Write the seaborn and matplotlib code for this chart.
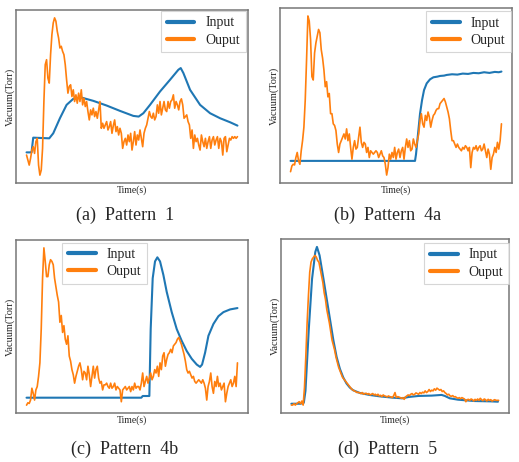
import numpy as np
import pandas as pd
import matplotlib
matplotlib.use("Agg")
import matplotlib.pyplot as plt
import seaborn as sns

sns.set_style("white")
plt.rcParams['font.family'] = ['Liberation Serif', 'DejaVu Serif']

# ---------------------------------------------------------------
# Data (arbitrary vacuum units, uniform sampling index as time)
# ---------------------------------------------------------------
# Pattern 1
p1_output = [90, 75, 60, 80, 105, 115, 95, 130, 140, 60, 30, 45, 110, 250, 360, 375,
             320, 305, 390, 450, 485, 500, 490, 460, 440, 410, 415, 400, 390, 360, 315, 275, 295,
             300, 265, 285, 250, 270, 245, 275, 250, 285, 240,
             260, 235, 250, 220, 195, 225, 210, 230, 205, 220,
             200, 225, 250, 170, 185, 170, 180, 190, 165, 175,
             190, 155, 178, 195, 160, 175, 150, 170, 155, 110,
             130, 140, 120, 150, 130, 155, 105, 130, 160, 120,
             150, 135, 165, 140, 115, 155, 170, 180, 200, 220,
             205, 200, 215, 195, 205, 240, 215, 250, 210, 230,
             250, 225, 220, 250, 230, 250, 255, 270, 230, 250,
             240, 225, 250, 258, 240, 200, 205, 210, 190, 180,
             140, 165, 110, 150, 130, 140, 120, 105, 150, 130,
             115, 140, 110, 130, 145, 110, 135, 145, 120, 135,
             145, 110, 140, 130, 90, 140, 145, 100, 120, 140,
             135, 145, 140, 145, 140, 145]
p1_input_t = [0, 3.75, 5, 17, 20, 25, 30, 35, 41, 50, 60, 70, 80, 84, 87.5, 92.5, 100,
              107.5, 113.75, 115.5, 117.5, 122.5, 130, 137.5, 145, 152.5, 158]
p1_input = [98, 98, 142, 140, 155, 200, 240, 258, 262, 252, 238, 222, 207, 205, 215, 240, 280,
            315, 345, 350, 335, 285, 240, 215, 200, 188, 178]

# Pattern 4a
p4a_output = [38, 55, 60, 58, 80, 95, 70, 60, 100, 130,
              170, 250, 370, 500, 485, 430, 320, 310, 390, 420,
              440, 460, 450, 400, 375, 340, 290, 305, 260, 270,
              210, 210, 180, 175, 160, 120, 95, 120, 130, 140,
              150, 135, 165, 130, 150, 110, 75, 110, 130, 105,
              110, 140, 170, 125, 110, 125, 120, 95, 110, 80,
              100, 95, 90, 95, 100, 95, 80, 90, 100, 85,
              80, 60, 28, 50, 90, 75, 95, 80, 110, 75,
              95, 105, 80, 100, 110, 75, 110, 135, 110, 130,
              100, 105, 135, 120, 110, 130, 150, 190, 210, 180,
              170, 205, 190, 215, 200, 170, 190, 205, 210, 220,
              225, 225, 240, 245, 250, 255, 245, 230, 215, 195,
              160, 130, 130, 120, 110, 120, 110, 105, 100, 110,
              105, 115, 110, 100, 110, 50, 95, 110, 105, 115,
              100, 110, 115, 100, 105, 120, 100, 80, 105, 90,
              45, 80, 90, 110, 95, 125, 105, 130, 180]
p4a_input_t = [0, 93.25, 94, 95, 96, 97, 98.5, 100, 102, 104.5, 107, 110, 112, 115, 117,
               121, 125, 129, 133, 137, 141, 145, 149, 153, 156, 158]
p4a_input = [70, 70, 90, 130, 170, 210, 250, 280, 300, 312, 318, 320, 322, 323, 325,
             327, 326, 329, 328, 331, 330, 333, 331, 334, 333, 335]

# Pattern 4b
p4b_output = [25, 32, 30, 40, 75, 60, 40, 70, 80, 110,
              150, 250, 400, 490, 450, 405, 405, 440, 455, 450,
              440, 400, 375, 350, 330, 270, 290, 240, 260, 220,
              205, 230, 170, 155, 130, 115, 90, 110, 125, 140,
              150, 130, 100, 125, 120, 100, 140, 115, 80, 110,
              140, 105, 130, 140, 105, 90, 95, 70, 85, 85,
              90, 80, 75, 90, 75, 80, 90, 70, 80, 75,
              70, 35, 70, 75, 80, 70, 75, 80, 65, 80,
              70, 90, 75, 80, 80, 70, 90, 120, 80, 95,
              110, 90, 105, 120, 100, 110, 130, 120, 140, 110,
              150, 130, 170, 180, 140, 160, 175, 180, 190, 180,
              200, 205, 210, 220, 225, 215, 205, 190, 175, 155,
              130, 120, 125, 115, 105, 110, 95, 90, 95, 100,
              95, 90, 100, 90, 75, 40, 80, 95, 120, 80,
              60, 95, 80, 110, 80, 90, 70, 80, 90, 35,
              60, 80, 90, 100, 80, 90, 110, 80, 150]
p4b_input_t = [0, 86, 87, 92, 93, 94.5, 96.25, 98, 100, 102.5, 105, 108.75, 112.5, 116.25,
               120, 123.75, 127.5, 130, 131.5, 133.75, 136.25, 140, 143.75, 147.5, 152.5, 158]
p4b_input = [47, 47, 52, 52, 250, 400, 450, 462, 450, 410, 360, 300, 250, 215,
             185, 162, 145, 138, 145, 180, 230, 265, 288, 300, 308, 312]

# Pattern 5
p5_output = [28, 28, 32, 28, 32, 35, 38, 32, 40, 28,
             80, 170, 270, 350, 420, 450, 460, 465, 470, 465,
             455, 450, 430, 410, 390, 360, 340, 310, 290, 270,
             245, 220, 205, 190, 170, 155, 140, 130, 120, 110,
             105, 100, 95, 90, 85, 80, 75, 72, 70, 68,
             65, 66, 64, 62, 65, 60, 62, 63, 60, 62,
             58, 60, 62, 58, 60, 56, 60, 55, 57, 53,
             58, 55, 54, 52, 55, 53, 52, 50, 56, 65,
             50, 53, 52, 50, 48, 50, 45, 52, 55, 58,
             56, 60, 62, 58, 60, 64, 62, 60, 65, 62,
             66, 64, 70, 65, 68, 74, 68, 72, 70, 76,
             72, 78, 75, 72, 74, 68, 70, 65, 62, 58,
             60, 55, 54, 56, 52, 53, 50, 48, 50, 47,
             50, 48, 46, 38, 44, 45, 42, 46, 44, 40,
             45, 42, 46, 42, 48, 44, 41, 46, 44, 40,
             45, 42, 44, 40, 42, 44, 42, 42, 42]
p5_input_t = [0, 7, 9.5, 10.75, 13.25, 15.75, 18.25, 19.5, 21.5, 24.5, 27, 29.5, 32, 34.5,
              37, 39.5, 42, 44.5, 47, 52, 59.5, 67, 77, 84.5, 89.5, 97, 107, 114.5, 117,
              120.75, 127, 139.5, 152, 157.5]
p5_input = [32, 32, 35, 70, 250, 400, 480, 495, 470, 400, 340, 280, 220, 170,
            135, 110, 92, 80, 72, 64, 58, 54, 50, 48, 52, 55, 56, 58, 55,
            48, 44, 40, 39, 38]

panels = [
    ("(a)  Pattern  1", p1_input_t, p1_input, p1_output,
     [16, 10, 232, 173], dict(loc='upper right', bbox_to_anchor=(0.99, 0.995))),
    ("(b)  Pattern  4a", p4a_input_t, p4a_input, p4a_output,
     [280, 8, 232, 175], dict(loc='upper right', bbox_to_anchor=(0.995, 0.982))),
    ("(c)  Pattern  4b", p4b_input_t, p4b_input, p4b_output,
     [16, 240, 232, 173], dict(loc='upper left', bbox_to_anchor=(0.2, 0.985))),
    ("(d)  Pattern  5", p5_input_t, p5_input, p5_output,
     [281, 239, 228, 174], dict(loc='upper right', bbox_to_anchor=(1.0, 0.978))),
]
caption_pos = [(125, 215), (388, 215), (125, 449), (388, 449)]

W, H = 519, 462
fig = plt.figure(figsize=(W / 100, H / 100), dpi=100)

for (title, t_in, v_in, v_out, box, leg_kw), (cx, cy) in zip(panels, caption_pos):
    x0, y0, w, h = box
    ax = fig.add_axes([x0 / W, (H - y0 - h) / H, w / W, h / H])
    df_out = pd.DataFrame({"t": np.arange(len(v_out)), "v": v_out})
    df_in = pd.DataFrame({"t": t_in, "v": v_in})
    sns.lineplot(data=df_in, x="t", y="v", ax=ax, color="#1f77b4", lw=1.5, label="Input")
    sns.lineplot(data=df_out, x="t", y="v", ax=ax, color="#ff7f0e", lw=1.2, label="Ouput")
    ax.set_xlabel("Time(s)", fontsize=7, labelpad=2)
    ax.set_ylabel("Vacuum(Torr)", fontsize=7.5, labelpad=1)
    ax.tick_params(axis='both', direction='in', length=2, color='#bbbbbb', width=0.6,
                   labelleft=False, labelbottom=False)
    for s in ax.spines.values():
        s.set_color('#777777')
        s.set_linewidth(1.1)
    leg = ax.legend(fontsize=10, frameon=True, fancybox=False, borderaxespad=0,
                    handlelength=2.0, handletextpad=0.8, borderpad=0.4,
                    labelspacing=0.3, **leg_kw)
    leg.get_frame().set_edgecolor('#cccccc')
    leg.get_frame().set_linewidth(0.8)
    for line in leg.get_lines():
        line.set_linewidth(3)
    fig.text(cx / W, 1 - cy / H, title, ha='center', va='center', fontsize=13)

fig.savefig("out.png", dpi=100)
